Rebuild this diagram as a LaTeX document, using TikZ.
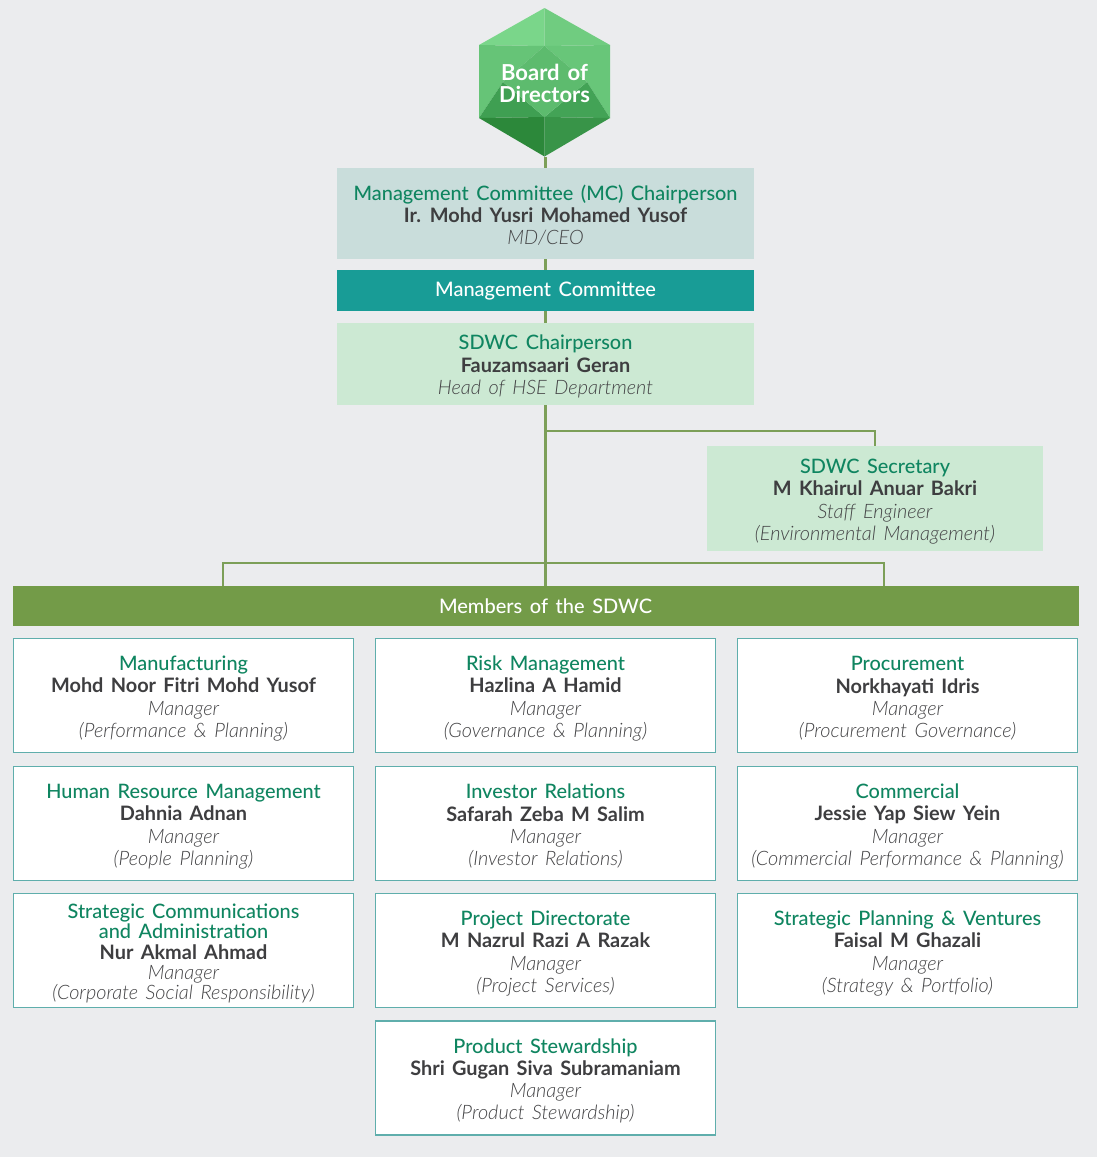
\documentclass[tikz,border=0pt]{standalone}
\usepackage{fontspec}
\setmainfont[WordSpace=1.5]{Lato}
\newfontfamily\headface[WordSpace=1.5]{Lato Medium}
\newfontfamily\roleface[WordSpace=1.5]{Lato Light}
\definecolor{pagebg}{HTML}{EBECEE}
\definecolor{headgreen}{HTML}{0F8560}
\definecolor{namedark}{HTML}{3E3E40}
\definecolor{rolegrey}{HTML}{444446}
\definecolor{linegreen}{HTML}{7C9F58}
\definecolor{boxedge}{HTML}{5FAEAC}
\definecolor{mcfill}{HTML}{C9DDDB}
\definecolor{tealbar}{HTML}{189C96}
\definecolor{paleGreen}{HTML}{CCE9D3}
\definecolor{olivebar}{HTML}{739B48}
\definecolor{hexA}{HTML}{7AD68A}
\definecolor{hexB}{HTML}{70CC80}
\definecolor{hexC}{HTML}{66C477}
\definecolor{hexD}{HTML}{68C679}
\definecolor{hexE}{HTML}{3F9F52}
\definecolor{hexF}{HTML}{43A356}
\definecolor{hexG}{HTML}{5DBB6E}
\definecolor{hexH}{HTML}{2C883A}
\definecolor{hexI}{HTML}{389448}
\newcommand{\hd}[1]{{\color{headgreen}\headface #1}}
\newcommand{\hdtop}[2][20.5pt]{\rule{0pt}{#1}\hd{#2}}
\newcommand{\nm}[1]{{\color{namedark}\bfseries #1}}
\newcommand{\rl}[1]{{\color{rolegrey}\roleface\itshape #1}}
\tikzset{
  txtbase/.style={align=center,inner sep=0pt,font=\fontsize{19.9}{22.3}\selectfont},
  memberbox/.style={txtbase,draw=boxedge,line width=1.4pt,fill=white,minimum width=340pt,minimum height=114pt},
  widebox/.style={txtbase,minimum width=417pt},
  barlabel/.style={txtbase,text=white,font=\fontsize{20}{22.3}\selectfont\headface,execute at begin node={\rule{0pt}{16pt}}},
  conn/.style={draw=linegreen,line width=2.7pt}
}
\newcommand{\memberat}[6]{\node[memberbox] (#1) at (#2,#3) {\hdtop{#4}\\\nm{#5}\\\rl{Manager}\\\rl{#6}};}
\begin{document}
\begin{tikzpicture}[x=1pt,y=-1pt]
\useasboundingbox (0,0) rectangle (1097,1157);
\fill[pagebg] (0,0) rectangle (1097,1157);
\coordinate (ht) at (544.5,8);
\coordinate (hul) at (479,45);
\coordinate (hur) at (610,45);
\coordinate (hll) at (479,118);
\coordinate (hlr) at (610,118);
\coordinate (hb) at (544.5,156.5);
\coordinate (dt) at (544.5,46);
\coordinate (dl) at (503,82);
\coordinate (dr) at (587,82);
\coordinate (dd) at (544.5,117);
\node[inner sep=0pt,minimum width=131pt,minimum height=149pt] (board) at (545.5,82.5) {};
\node[barlabel,fill=olivebar,minimum width=1066pt,minimum height=40pt] (members) at (545.5,606) {Members of the SDWC};
\node[widebox,fill=mcfill,minimum height=91pt] (mc) at (545.5,213.5) {\hdtop[18.5pt]{Management Committee (MC) Chairperson}\\\nm{Ir. Mohd Yusri Mohamed Yusof}\\\rl{MD/CEO}};
\node[barlabel,fill=tealbar,minimum width=417pt,minimum height=41pt] (mcbar) at (545.5,290.5) {Management Committee};
\node[widebox,fill=paleGreen,minimum height=82pt] (chair) at (545.5,364) {\hdtop[19.5pt]{SDWC Chairperson}\\\nm{Fauzamsaari Geran}\\\rl{Head of HSE Department}};
\node[txtbase,fill=paleGreen,minimum width=336pt,minimum height=105pt] (secretary) at (875,498.5) {\hdtop{SDWC Secretary}\\\nm{M Khairul Anuar Bakri}\\\rl{Staff Engineer}\\\rl{(Environmental Management)}};
\coordinate (branchsec) at (545.5,431);
\coordinate (branchmem) at (545.5,563);
\coordinate (memleft) at (223,586);
\coordinate (memright) at (884,586);
\draw[conn] (board.south) -- (mc.north);
\draw[conn] (mc.south) -- (mcbar.north);
\draw[conn] (mcbar.south) -- (chair.north);
\draw[conn] (chair.south) -- (members.north);
\draw[conn] (branchsec) -| (secretary.north);
\draw[conn] (memleft) |- (branchmem) -| (memright);
\fill[hexA] (ht) -- (dt) -- (hul) -- cycle;
\fill[hexB] (ht) -- (hur) -- (dt) -- cycle;
\fill[hexC] (hul) -- (dt) -- (dl) -- (hll) -- cycle;
\fill[hexD] (hur) -- (dt) -- (dr) -- (hlr) -- cycle;
\fill[hexE] (hll) -- (dl) -- (dd) -- cycle;
\fill[hexF] (hlr) -- (dr) -- (dd) -- cycle;
\fill[hexG] (dt) -- (dr) -- (dd) -- (dl) -- cycle;
\fill[hexH] (hll) -- (dd) -- (hb) -- cycle;
\fill[hexI] (hlr) -- (dd) -- (hb) -- cycle;
\node[txtbase,text=white,font=\fontsize{22}{22}\selectfont\bfseries] (boardlabel) at (544.5,83) {Board of\\Directors};
\memberat{m1}{183.5}{695.5}{Manufacturing}{Mohd Noor Fitri Mohd Yusof}{(Performance \& Planning)}
\memberat{m2}{545.5}{695.5}{Risk Management}{Hazlina A Hamid}{(Governance \& Planning)}
\memberat{m3}{907.5}{695.5}{Procurement}{Norkhayati Idris}{(Procurement Governance)}
\memberat{m4}{183.5}{823.5}{Human Resource Management}{Dahnia Adnan}{(People Planning)}
\memberat{m5}{545.5}{823.5}{Investor Relations}{Safarah Zeba M Salim}{(Investor Relations)}
\memberat{m6}{907.5}{823.5}{Commercial}{Jessie Yap Siew Yein}{(Commercial Performance \& Planning)}
\node[memberbox,font=\fontsize{19.9}{20.2}\selectfont] (m7) at (183.5,950.5) {\hdtop{Strategic Communications}\\\hd{and Administration}\\\nm{Nur Akmal Ahmad}\\\rl{Manager}\\\rl{(Corporate Social Responsibility)}};
\memberat{m8}{545.5}{950.5}{Project Directorate}{M Nazrul Razi A Razak}{(Project Services)}
\memberat{m9}{907.5}{950.5}{Strategic Planning \& Ventures}{Faisal M Ghazali}{(Strategy \& Portfolio)}
\memberat{m10}{545.5}{1078}{Product Stewardship}{Shri Gugan Siva Subramaniam}{(Product Stewardship)}
\end{tikzpicture}
\end{document}
